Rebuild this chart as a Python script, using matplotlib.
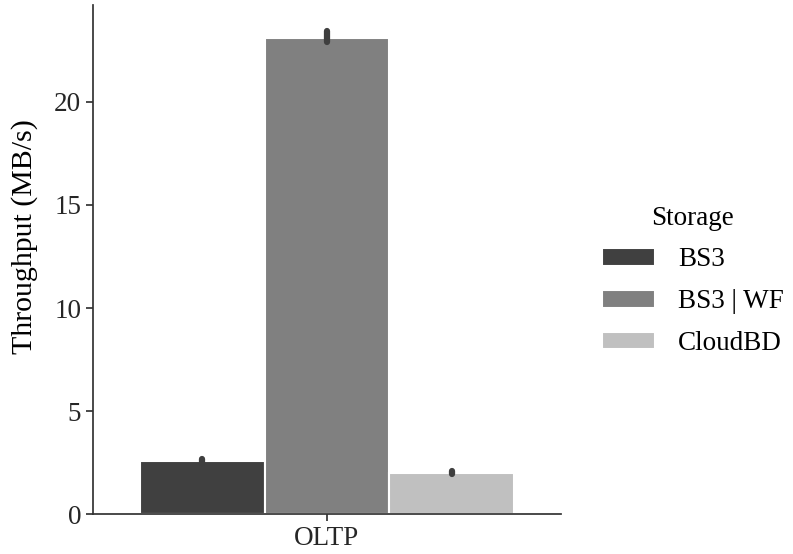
import matplotlib
matplotlib.use("Agg")
import matplotlib.pyplot as plt
from matplotlib.patches import Patch
import numpy as np

categories = ["OLTP"]
storages = ["BS3", "BS3 | WF", "CloudBD"]
means = [2.59, 23.09, 2.00]
err_low = [2.50, 22.89, 1.97]
err_high = [2.69, 23.41, 2.13]
colors = ["#404040", "#808080", "#c0c0c0"]
yticks = [0, 5, 10, 15, 20]

plt.rcParams['font.family'] = ['Liberation Serif', 'DejaVu Serif']
fs = 19.5

fig = plt.figure(figsize=(7.93, 5.54), dpi=100)
ax = fig.add_axes([0.1173, 0.0713, 0.590, 0.9197])

n = len(storages)
width = 0.8 / n
for i, (s, m, lo, hi, c) in enumerate(zip(storages, means, err_low, err_high, colors)):
    x = -0.4 + width * (i + 0.5)
    ax.bar(x, m, width=width, color=c, edgecolor="white", linewidth=1.5)
    ax.plot([x, x], [lo, hi], color="#3f3f3f", linewidth=4.5, solid_capstyle="round", zorder=3)

ax.set_xlim(-0.5, 0.5)
ax.set_ylim(0, 24.69)
ax.set_xticks([0])
ax.set_xticklabels(categories, fontsize=fs)
ax.set_yticks(yticks)
ax.set_yticklabels([str(t) for t in yticks], fontsize=fs)
ax.set_ylabel("Throughput (MB/s)", fontsize=21.5)
ax.yaxis.set_label_coords(-0.118, 0.545)
for sp in ["top", "right"]:
    ax.spines[sp].set_visible(False)
for sp in ["left", "bottom"]:
    ax.spines[sp].set_color("#333333")
    ax.spines[sp].set_linewidth(1.25)
ax.tick_params(axis="both", colors="#333333", labelcolor="#262626", length=5, width=1.25)

handles = [Patch(facecolor=c, edgecolor="white", linewidth=1.5) for c in colors]
leg = fig.legend(handles, storages, loc="center left", bbox_to_anchor=(0.728, 0.493),
                 frameon=False, fontsize=fs, title="Storage", title_fontsize=fs,
                 handlelength=1.96, handleheight=0.63, handletextpad=0.85, labelspacing=0.62)

fig.savefig("out.png", dpi=100)
